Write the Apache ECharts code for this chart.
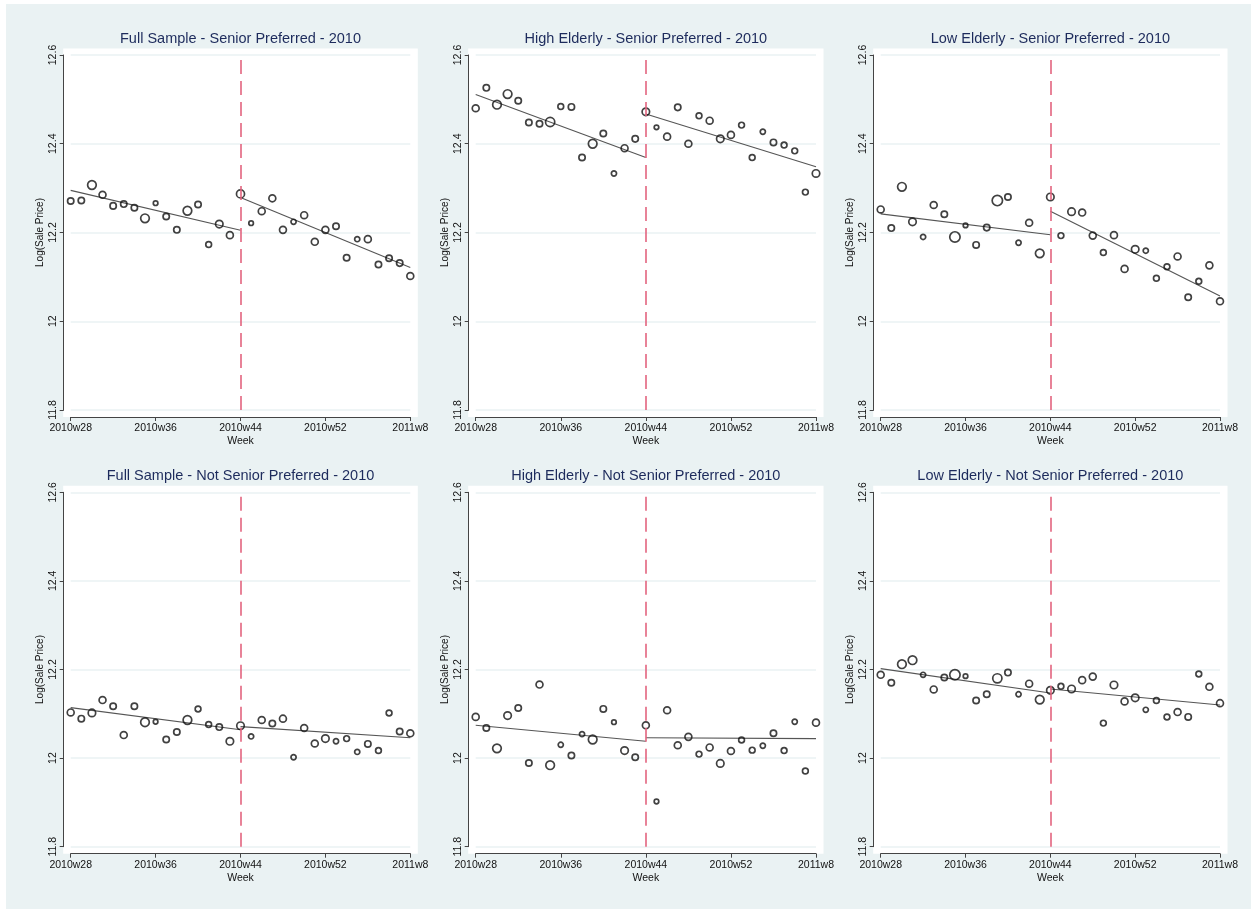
<!DOCTYPE html>
<html>
<head>
<meta charset="utf-8">
<script src="https://cdn.jsdelivr.net/npm/echarts@6/dist/echarts.min.js"></script>
<style>
html,body{margin:0;padding:0;background:#ffffff;}
#chart{width:1251px;height:909px;}
</style>
</head>
<body>
<div id="chart"></div>
<script>
// ---------------- DATA ----------------
const weekTickLabels = ['2010w28', '2010w36', '2010w44', '2010w52', '2011w8'];
const yTickLabels = ['11.8', '12', '12.2', '12.4', '12.6'];
const cutoffWeek = 16; // 2010w44 as index from 2010w28

const titles = [
  'Full Sample - Senior Preferred - 2010',
  'High Elderly - Senior Preferred - 2010',
  'Low Elderly - Senior Preferred - 2010',
  'Full Sample - Not Senior Preferred - 2010',
  'High Elderly - Not Senior Preferred - 2010',
  'Low Elderly - Not Senior Preferred - 2010'
];

const fullSenior = [12.271, 12.272, 12.307, 12.285, 12.260, 12.264, 12.256, 12.232, 12.266, 12.236, 12.206,
  12.249, 12.263, 12.173, 12.219, 12.194, 12.287, 12.221, 12.248, 12.277, 12.206, 12.224, 12.239,
  12.179, 12.206, 12.214, 12.143, 12.185, 12.185, 12.128, 12.142, 12.131, 12.102];
const highSenior = [12.480, 12.526, 12.488, 12.512, 12.497, 12.448, 12.445, 12.449, 12.484, 12.483, 12.369,
  12.400, 12.423, 12.333, 12.390, 12.411, 12.472, 12.437, 12.416, 12.482, 12.400, 12.463, 12.452,
  12.411, 12.420, 12.442, 12.369, 12.427, 12.403, 12.397, 12.384, 12.291, 12.333];
const lowSenior = [12.252, 12.210, 12.303, 12.224, 12.190, 12.262, 12.241, 12.190, 12.216, 12.172, 12.211,
  12.272, 12.280, 12.177, 12.222, 12.153, 12.280, 12.193, 12.247, 12.245, 12.193, 12.155, 12.194,
  12.118, 12.162, 12.159, 12.097, 12.123, 12.146, 12.054, 12.090, 12.126, 12.045];
const fullNotSenior = [12.103, 12.089, 12.102, 12.131, 12.117, 12.052, 12.117, 12.081, 12.082, 12.042, 12.059,
  12.086, 12.111, 12.076, 12.070, 12.038, 12.073, 12.049, 12.086, 12.078, 12.089, 12.002, 12.068,
  12.033, 12.044, 12.038, 12.044, 12.014, 12.032, 12.017, 12.102, 12.060, 12.056];
const highNotSenior = [12.093, 12.068, 12.022, 12.096, 12.113, 11.989, 12.166, 11.984, 12.030, 12.006, 12.054,
  12.042, 12.111, 12.081, 12.017, 12.002, 12.074, 11.902, 12.108, 12.029, 12.048, 12.009, 12.024,
  11.988, 12.016, 12.041, 12.018, 12.028, 12.056, 12.017, 12.082, 11.971, 12.080];
const lowNotSenior = [12.188, 12.170, 12.212, 12.221, 12.188, 12.155, 12.182, 12.188, 12.185, 12.130, 12.144,
  12.180, 12.193, 12.144, 12.168, 12.132, 12.153, 12.162, 12.156, 12.176, 12.184, 12.079, 12.165,
  12.128, 12.136, 12.109, 12.130, 12.093, 12.104, 12.093, 12.190, 12.161, 12.124];

// marker weights (relative circle size)
const fullSeniorW = [5.5, 5.5, 7.5, 6, 5.5, 5.5, 5.5, 7.5, 4, 5.5, 5.5, 7.5, 5.5, 5, 6.5, 6, 7, 4, 6, 6, 6, 4.5, 6, 6, 6, 5.5, 5.5, 4.5, 6, 5.5, 5.5, 5.5, 6];
const highSeniorW = [6, 5.5, 7.5, 7.5, 5.5, 5.5, 5.5, 8, 5, 5.5, 5.5, 7.5, 5.5, 4.5, 6, 5.5, 6.5, 4, 6, 5.5, 6, 5, 6, 6.5, 6, 5, 5, 4.5, 5.5, 5, 5, 5, 6.5];
const lowSeniorW = [6, 5.5, 7.5, 6.5, 4.5, 6, 5.5, 9, 4, 5.5, 5.5, 9, 5.5, 4.5, 6, 7.5, 6.5, 5, 6.5, 6, 6, 5, 6, 6, 6.5, 4.5, 5, 5, 6, 5.5, 5, 6, 6];
const fullNotSeniorW = [6, 5.5, 6.5, 6, 5.5, 6, 5.5, 7.5, 4, 5.5, 5.5, 7.5, 5, 5, 5.5, 6.5, 6.5, 4.5, 6, 5.5, 6, 4.5, 6, 6, 6.5, 4.5, 5, 4.5, 5.5, 5, 5, 5.5, 6];
const highNotSeniorW = [6, 5.5, 7.5, 6.5, 5.5, 5.5, 6, 7.5, 4.5, 5.5, 4.5, 7.5, 5.5, 4, 6.5, 5.5, 6, 4, 6, 6, 6, 5, 6, 6.5, 6, 5, 5, 4.5, 5.5, 5, 4.5, 5, 6];
const lowNotSeniorW = [6, 5.5, 7.5, 7.5, 4.5, 6, 5.5, 9, 4, 5.5, 5.5, 8, 5.5, 4.5, 6, 7.5, 6.5, 5, 6.5, 6, 6, 5, 6.5, 6, 6.5, 4.5, 5, 5, 6, 5.5, 5, 6, 6];

// fitted line endpoints: [pre start, pre end, post start, post end]
const fullSeniorFit = [12.295, 12.205, 12.279, 12.121];
const highSeniorFit = [12.511, 12.369, 12.467, 12.348];
const lowSeniorFit = [12.242, 12.195, 12.248, 12.057];
const fullNotSeniorFit = [12.114, 12.064, 12.071, 12.046];
const highNotSeniorFit = [12.074, 12.038, 12.046, 12.044];
const lowNotSeniorFit = [12.202, 12.147, 12.156, 12.120];

const panelValues = [fullSenior, highSenior, lowSenior, fullNotSenior, highNotSenior, lowNotSenior];
const panelWeights = [fullSeniorW, highSeniorW, lowSeniorW, fullNotSeniorW, highNotSeniorW, lowNotSeniorW];
const panelFits = [fullSeniorFit, highSeniorFit, lowSeniorFit, fullNotSeniorFit, highNotSeniorFit, lowNotSeniorFit];

// ---------------- LAYOUT ----------------
const colX = [[70.7, 410.3], [475.7, 816.0], [880.7, 1220.0]];
const rowY = [[55, 410], [492.3, 846.7]];
const FONT = "'Liberation Sans', Arial, Helvetica, sans-serif";
const BG = '#EAF2F3';
const MARKER_SCALE = 1.15;

const chart = echarts.init(document.getElementById('chart'), null, {renderer: 'canvas'});

const grids = [], xAxes = [], yAxes = [], series = [], titleComps = [];
const graphics = [{type: 'rect', shape: {x: 6, y: 4, width: 1251 - 6, height: 909 - 4}, style: {fill: BG}, z: -20}];

for (let p = 0; p < 6; p++) {
  const c = p % 3, r = Math.floor(p / 3);
  const [x0, x1] = colX[c];
  const [y0, y1] = rowY[r];
  grids.push({left: x0, top: y0, width: x1 - x0, height: y1 - y0, containLabel: false});
  graphics.push({type: 'rect', shape: {x: x0 - 7.5, y: y0 - 6.5, width: (x1 - x0) + 15, height: (y1 - y0) + 13.5},
    style: {fill: '#ffffff'}, z: -10});
  titleComps.push({
    text: titles[p], left: (x0 + x1) / 2, top: y0 - 24, textAlign: 'center', padding: 0,
    textStyle: {fontFamily: FONT, fontSize: 14.5, fontWeight: 'normal', color: '#1d2b5c'}
  });
  xAxes.push({
    gridIndex: p, type: 'value', min: 0, max: 32, interval: 8, offset: 7,
    name: 'Week', nameLocation: 'middle', nameGap: 19,
    nameTextStyle: {fontFamily: FONT, fontSize: 10.5, color: '#111'},
    axisLine: {show: true, onZero: false, lineStyle: {color: '#444', width: 1}},
    axisTick: {show: true, length: 4, lineStyle: {color: '#444', width: 1}},
    axisLabel: {margin: 6, fontFamily: FONT, fontSize: 10.5, color: '#111',
      formatter: v => weekTickLabels[Math.round(v / 8)]},
    splitLine: {show: false}
  });
  yAxes.push({
    gridIndex: p, type: 'value', min: 11.8, max: 12.6, interval: 0.2, offset: 7,
    name: 'Log(Sale Price)', nameLocation: 'middle', nameGap: 18, nameRotate: 90,
    nameTextStyle: {fontFamily: FONT, fontSize: 10, color: '#111'},
    axisLine: {show: true, onZero: false, lineStyle: {color: '#444', width: 1}},
    axisTick: {show: true, length: 4, lineStyle: {color: '#444', width: 1}},
    axisLabel: {rotate: 90, margin: 5, fontFamily: FONT, fontSize: 10.5, color: '#111',
      formatter: v => yTickLabels[Math.round((v - 11.8) / 0.2)]},
    splitLine: {show: true, lineStyle: {color: BG, width: 1.5}}
  });
  const vals = panelValues[p], w = panelWeights[p], fit = panelFits[p];
  series.push({
    type: 'scatter', xAxisIndex: p, yAxisIndex: p,
    data: vals.map((v, i) => [i, v]),
    symbol: 'circle',
    symbolSize: (val, params) => w[params.dataIndex] * MARKER_SCALE,
    itemStyle: {color: 'rgba(255,255,255,0)', borderColor: '#111', borderWidth: 1.7},
    z: 4, silent: true,
    markLine: {
      symbol: 'none', silent: true, label: {show: false}, animation: false,
      lineStyle: {color: '#E3647F', type: [14, 7], width: 1.6},
      data: [{xAxis: cutoffWeek}]
    }
  });
  series.push({
    type: 'line', xAxisIndex: p, yAxisIndex: p, symbol: 'none', silent: true, z: 3,
    lineStyle: {color: '#555', width: 1.1},
    data: [[0, fit[0]], [cutoffWeek, fit[1]]]
  });
  series.push({
    type: 'line', xAxisIndex: p, yAxisIndex: p, symbol: 'none', silent: true, z: 3,
    lineStyle: {color: '#555', width: 1.1},
    data: [[cutoffWeek, fit[2]], [32, fit[3]]]
  });
}

chart.setOption({
  animation: false,
  backgroundColor: '#ffffff',
  title: titleComps,
  grid: grids,
  xAxis: xAxes,
  yAxis: yAxes,
  series: series,
  graphic: {elements: graphics}
});
</script>
</body>
</html>
